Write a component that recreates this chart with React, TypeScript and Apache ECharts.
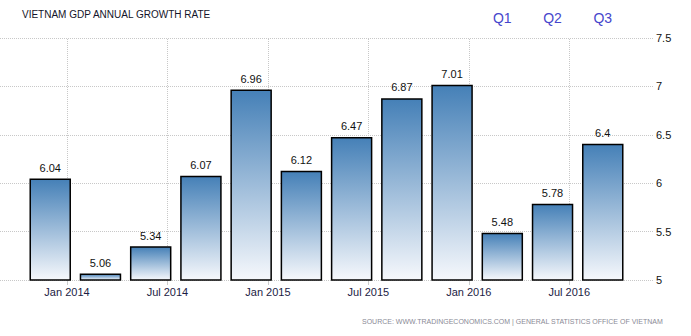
import React, { useEffect, useRef } from "react";
import * as echarts from "echarts";

const quarters = ["2013Q4", "2014Q1", "2014Q2", "2014Q3", "2014Q4", "2015Q1", "2015Q2", "2015Q3", "2015Q4", "2016Q1", "2016Q2", "2016Q3"];
const growth = [6.04, 5.06, 5.34, 6.07, 6.96, 6.12, 6.47, 6.87, 7.01, 5.48, 5.78, 6.4];
const tickMonths = [0, 6, 12, 18, 24, 30];
const tickLabels = ["Jan 2014", "Jul 2014", "Jan 2015", "Jul 2015", "Jan 2016", "Jul 2016"];
const highlightQuarters = ["2016Q1", "2016Q2", "2016Q3"];
const highlightLabels = ["Q1", "Q2", "Q3"];
const yMin = 5;
const yMax = 7.5;
const yStep = 0.5;

const FONT = "'Liberation Sans', Arial, sans-serif";
const BAR_W = 40;

// month index (Jan 2014 = 0) of the last month of the quarter
function quarterToMonth(q: string): number {
  const y = parseInt(q.slice(0, 4), 10);
  const n = parseInt(q.slice(5), 10);
  return (y - 2014) * 12 + 3 * n - 1;
}

export default function App() {
  const ref = useRef<HTMLDivElement>(null);
  useEffect(() => {
    if (!ref.current) return;
    const chart = echarts.init(ref.current, undefined, { renderer: "svg" });
    const xs = quarters.map(quarterToMonth);
    const baseGraphics = [
      {
        type: "text",
        left: 22,
        top: 9,
        style: { text: "VIETNAM GDP ANNUAL GROWTH RATE", fill: "#14142a", font: `10px ${FONT}` },
      },
      {
        type: "text",
        right: 28,
        top: 318,
        style: {
          text: "SOURCE: WWW.TRADINGECONOMICS.COM | GENERAL STATISTICS OFFICE OF VIETNAM",
          fill: "#8a8a96",
          font: `7px ${FONT}`,
        },
      },
    ];
    chart.setOption({
      animation: false,
      backgroundColor: "#ffffff",
      grid: { left: 0, right: 38, top: 38, bottom: 56, containLabel: false },
      xAxis: {
        type: "value",
        min: -4,
        max: 35,
        axisLine: { show: false },
        axisTick: {
          show: true,
          customValues: tickMonths,
          length: 5,
          lineStyle: { color: "#cccccc", width: 1 },
        },
        axisLabel: {
          customValues: tickMonths,
          formatter: (v: number) => {
            const i = tickMonths.indexOf(Math.round(v));
            return i >= 0 ? tickLabels[i] : "";
          },
          margin: 6,
          color: "#1c1c44",
          fontSize: 11,
          fontFamily: FONT,
        },
        splitLine: { show: false },
      },
      yAxis: {
        type: "value",
        position: "right",
        min: yMin,
        max: yMax,
        interval: yStep,
        axisLine: { show: false },
        axisTick: { show: false },
        axisLabel: { margin: 3, color: "#111111", fontSize: 11, fontFamily: FONT },
        splitLine: { show: true, lineStyle: { type: "dotted", color: "#c8c8c8", width: 1 } },
      },
      series: [
        {
          type: "custom",
          z: 3,
          data: xs.map((x, i) => [x, growth[i]]),
          encode: { x: 0, y: 1 },
          clip: false,
          renderItem: (params: any, api: any) => {
            const x = api.value(0);
            const v = api.value(1);
            const top = api.coord([x, v]);
            const base = api.coord([x, yMin]);
            return {
              type: "group",
              children: [
                {
                  type: "rect",
                  shape: { x: top[0] - BAR_W / 2, y: top[1], width: BAR_W, height: base[1] - top[1] },
                  style: {
                    fill: new echarts.graphic.LinearGradient(0, 0, 0, 1, [
                      { offset: 0, color: "#4580b7" },
                      { offset: 1, color: "#f6f8fc" },
                    ]),
                    stroke: "#000000",
                    lineWidth: 1.5,
                  },
                },
                {
                  type: "text",
                  style: {
                    text: String(v),
                    x: top[0],
                    y: top[1] - 6,
                    align: "center",
                    verticalAlign: "bottom",
                    fill: "#111111",
                    font: `11px ${FONT}`,
                  },
                },
              ],
            };
          },
          markLine: {
            silent: true,
            z: 0,
            symbol: "none",
            label: { show: false },
            lineStyle: { type: "dotted", color: "#c8c8c8", width: 1 },
            data: tickMonths.map((m) => ({ xAxis: m })),
          },
        },
      ],
      graphic: baseGraphics,
    });
    const qTexts = highlightQuarters.map((q, i) => {
      const px = chart.convertToPixel({ xAxisIndex: 0, yAxisIndex: 0 }, [quarterToMonth(q), yMax]);
      return {
        type: "text",
        x: px[0],
        y: 11,
        style: {
          text: highlightLabels[i],
          fill: "#4646cc",
          font: `14px ${FONT}`,
          align: "center",
          verticalAlign: "top",
        },
      };
    });
    chart.setOption({ graphic: [...baseGraphics, ...qTexts] }, { replaceMerge: ["graphic"] });
    return () => chart.dispose();
  }, []);
  return <div ref={ref} style={{ position: "absolute", left: 0, top: 0, width: 691, height: 336 }} />;
}
